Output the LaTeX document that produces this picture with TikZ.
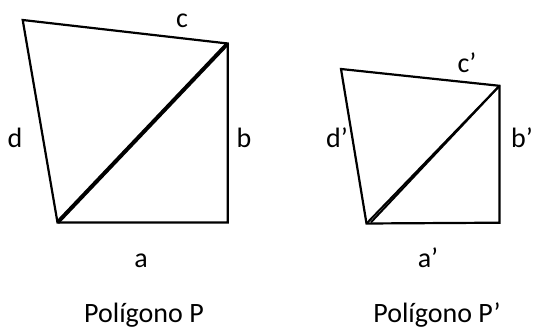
\documentclass[tikz,border=0pt]{standalone}
\usepackage{fontspec}
\setmainfont{Carlito}
\begin{document}
\begin{tikzpicture}[x=1pt,y=-1pt,
  edge/.style={line width=2.2pt,line join=miter},
  diag/.style={line width=4pt},
  thin diag/.style={line width=2pt},
  lbl/.style={inner sep=0pt,anchor=base,font=\fontsize{28}{32}\selectfont}]
\useasboundingbox (0,0) rectangle (533,331);
% Polygon P
\coordinate (p1) at (22.7,20);
\coordinate (p2) at (227.7,43.5);
\coordinate (p3) at (227.7,222.5);
\coordinate (p4) at (57.5,222.5);
\draw[edge] (p1) -- (p2) -- (p3) -- (p4) -- cycle;
\draw[diag] (p4) -- (p2);
% Polygon P'
\coordinate (q1) at (341,69);
\coordinate (q2) at (499.5,85.8);
\coordinate (q3) at (499.5,222.7);
\coordinate (q4) at (366.5,223.5);
\coordinate (q5) at (371,222.3);
\draw[edge] (q1) -- (q2) -- (q3) -- (q4) -- cycle;
\draw[thin diag] (q4) -- (q2);
\draw[thin diag] (q5) -- (q2);
% labels
\node[lbl] (lc) at (182,28) {c};
\node[lbl] (ld) at (15,148) {d};
\node[lbl] (lb) at (244,148) {b};
\node[lbl] (la) at (141,268) {a};
\node[lbl] (lc2) at (467,73) {c’};
\node[lbl] (ld2) at (337,148) {d’};
\node[lbl] (lb2) at (522,148) {b’};
\node[lbl] (la2) at (428,268) {a’};
\node[lbl] (tP) at (144,323) {Polígono P};
\node[lbl] (tP2) at (437,323) {Polígono P’};
\end{tikzpicture}
\end{document}
